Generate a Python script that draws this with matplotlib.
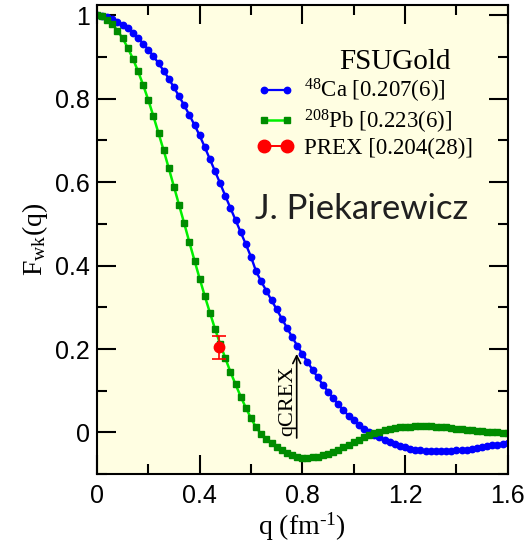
import matplotlib
matplotlib.use("Agg")
import matplotlib.pyplot as plt
from matplotlib.lines import Line2D
from matplotlib.ticker import FixedLocator, FixedFormatter, MultipleLocator

plt.rcParams['mathtext.fontset'] = 'custom'
plt.rcParams['mathtext.rm'] = 'Liberation Serif'
plt.rcParams['mathtext.it'] = 'Liberation Serif:italic'

# momentum transfer grid, 0 .. 1.6 fm^-1 in steps of 0.02
q = [i * 0.02 for i in range(81)]

# 48Ca weak form factor (blue)
ca48 = [1.000, 0.999, 0.996, 0.991, 0.985, 0.978, 0.969, 0.958, 0.946, 0.932,
        0.918, 0.902, 0.885, 0.867, 0.848, 0.827, 0.806, 0.784, 0.761, 0.737,
        0.712, 0.684, 0.655, 0.626, 0.597, 0.567, 0.538, 0.509, 0.480, 0.451,
        0.421, 0.386, 0.362, 0.339, 0.317, 0.295, 0.273, 0.251, 0.229, 0.208,
        0.188, 0.169, 0.150, 0.132, 0.114, 0.098, 0.082, 0.067, 0.053, 0.040,
        0.029, 0.018, 0.009, 0.001, -0.006, -0.012, -0.018, -0.023, -0.028, -0.032,
        -0.036, -0.039, -0.041, -0.043, -0.044, -0.045, -0.045, -0.045, -0.045, -0.044,
        -0.043, -0.042, -0.041, -0.039, -0.037, -0.035, -0.033, -0.031, -0.029, -0.027,
        -0.025]

# 208Pb weak form factor (green)
pb208 = [1.000, 0.998, 0.990, 0.979, 0.963, 0.945, 0.922, 0.896, 0.866, 0.833,
         0.797, 0.758, 0.717, 0.676, 0.633, 0.589, 0.545, 0.501, 0.456, 0.412,
         0.369, 0.327, 0.287, 0.248, 0.212, 0.178, 0.145, 0.115, 0.086, 0.059,
         0.034, 0.012, -0.004, -0.016, -0.026, -0.035, -0.042, -0.050, -0.055, -0.059,
         -0.061, -0.061, -0.060, -0.058, -0.055, -0.051, -0.046, -0.041, -0.035, -0.029,
         -0.023, -0.017, -0.011, -0.006, -0.002, 0.002, 0.005, 0.008, 0.010, 0.012,
         0.013, 0.014, 0.015, 0.015, 0.015, 0.015, 0.014, 0.013, 0.012, 0.011,
         0.009, 0.008, 0.006, 0.005, 0.004, 0.003, 0.002, 0.001, 0.000, -0.001,
         -0.001]

# PREX measurement
prex_q = [0.475]
prex_f = [0.204]
prex_err = [0.028]

q_crex = 0.778
crex_arrow = (-0.02, 0.195)

xticks = [0, 0.4, 0.8, 1.2, 1.6]
xticklabels = ['0', '0.4', '0.8', '1.2', '1.6']
yticks = [0, 0.2, 0.4, 0.6, 0.8, 1.0]
yticklabels = ['0', '0.2', '0.4', '0.6', '0.8', '1']

fig = plt.figure(figsize=(5.24, 5.45), dpi=100)
ax = fig.add_axes([0.185, 0.130, 0.784, 0.861])
ax.set_facecolor('#fffee2')

l_ca, = ax.plot(q, ca48, color='#0000ff', lw=1.7, marker='o', ms=4.6, mec='#0000ff', mfc='#0000ff')
l_pb, = ax.plot(q, pb208, color='#00f000', lw=1.8, marker='s', ms=4.0, mec='#008c00', mfc='#008c00')
ax.errorbar(prex_q, prex_f, yerr=prex_err, color='#ff0000', marker='o', ms=7.5, capsize=5,
            elinewidth=1.2, capthick=1.2, ls='none')

ax.annotate('', xy=(q_crex, crex_arrow[1]), xytext=(q_crex, crex_arrow[0]),
            arrowprops=dict(arrowstyle='->', color='black', lw=1.2, mutation_scale=14))
ax.text(q_crex - 0.035, 0.075, 'qCREX', rotation=90, ha='center', va='center',
        fontsize=16, family='Liberation Serif')

ax.text(0.645, 0.544, 'J. Piekarewicz', ha='center', va='baseline', fontsize=25,
        family='Lato', color='#202020', transform=ax.transAxes)

h_ca = Line2D([], [], color='#0000ff', lw=1.6, marker='o', ms=4.6)
h_pb = Line2D([], [], color='#00f000', lw=1.8, marker='s', ms=4.0, mec='#008c00', mfc='#008c00')
h_prex = Line2D([], [], color='#ff0000', lw=1.4, marker='o', ms=9)
leg = ax.legend([h_ca, h_pb, h_prex],
                [r'$^{48}$Ca [0.207(6)]', r'$^{208}$Pb [0.223(6)]', 'PREX [0.204(28)]'],
                loc='upper left', bbox_to_anchor=(0.367, 0.926), frameon=False,
                prop={'family': 'Liberation Serif', 'size': 16.5}, handlelength=1.6,
                handletextpad=0.45, labelspacing=0.1, numpoints=2, borderaxespad=0,
                title='FSUGold', title_fontproperties={'family': 'Liberation Serif', 'size': 21})
leg._legend_box.align = 'center'
leg.get_title().set_position((30, 0))

ax.set_xlim(0, 1.6)
ax.set_ylim(-0.1, 1.025)
ax.xaxis.set_major_locator(FixedLocator(xticks))
ax.xaxis.set_major_formatter(FixedFormatter(xticklabels))
ax.yaxis.set_major_locator(FixedLocator(yticks))
ax.yaxis.set_major_formatter(FixedFormatter(yticklabels))
ax.xaxis.set_minor_locator(MultipleLocator(0.2))
ax.yaxis.set_minor_locator(MultipleLocator(0.1))
ax.tick_params(which='both', direction='in', top=True, right=True, width=1.5,
               labelsize=18, labelfontfamily='Liberation Sans')
ax.tick_params(which='major', length=14)
ax.tick_params(which='minor', length=7.5)
ax.tick_params(axis='x', pad=7)
ax.tick_params(axis='y', pad=5)
for s in ax.spines.values():
    s.set_linewidth(1.5)

ax.set_xlabel(r'q (fm$^{\text{-1}}$)', fontsize=20, family='Liberation Serif', labelpad=2)
ax.set_ylabel(r'F$_{\rm wk}$(q)', fontsize=20, family='Liberation Serif', labelpad=4)

fig.savefig('out.png', dpi=100)
